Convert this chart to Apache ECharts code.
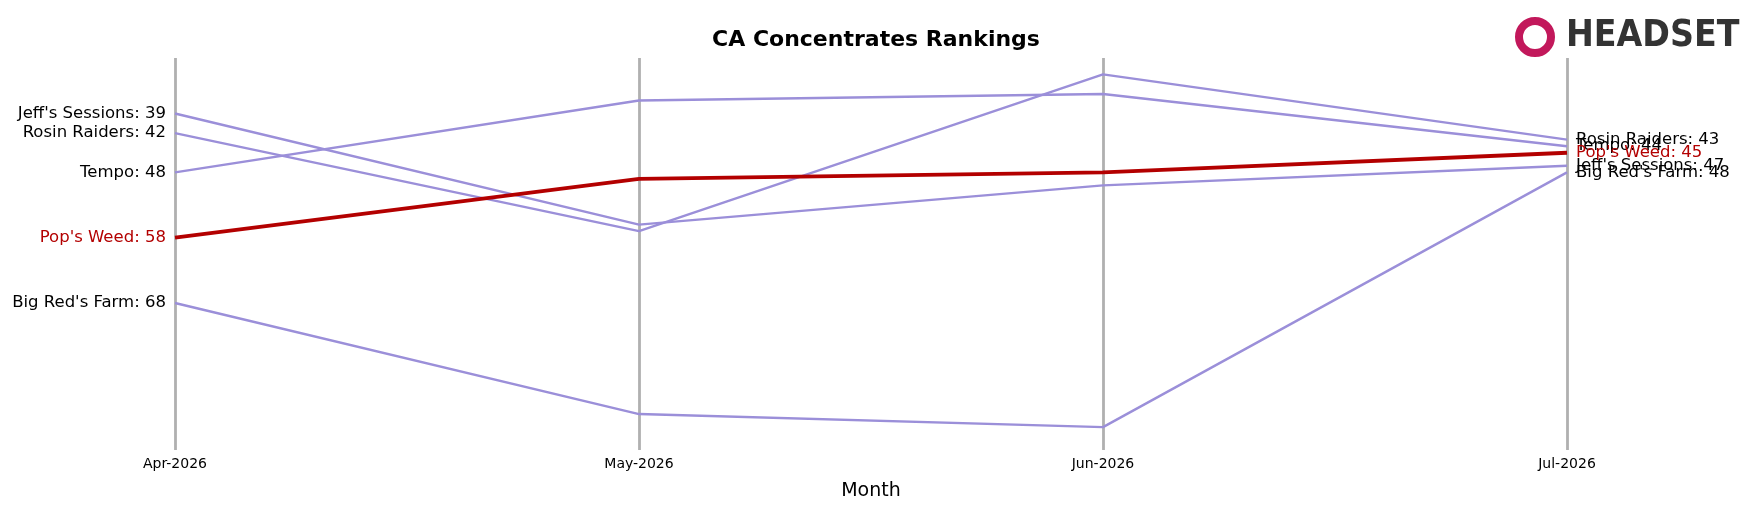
<!DOCTYPE html>
<html><head><meta charset="utf-8">
<script src="https://cdn.jsdelivr.net/npm/echarts@6/dist/echarts.min.js"></script>
<style>html,body{margin:0;padding:0;background:#fff}</style>
</head><body><div id="c" style="width:1749px;height:506px"></div>
<script>
const months = ["Apr-2026","May-2026","Jun-2026","Jul-2026"];
const brands = ["Jeff's Sessions","Rosin Raiders","Tempo","Pop's Weed","Big Red's Farm"];
const jeffs = [39,56,50,47];
const rosin = [42,57,33,43];
const tempo = [48,37,36,44];
const pops = [58,49,48,45];
const bigred = [68,85,87,48];
const values = [jeffs,rosin,tempo,pops,bigred];
const highlight = "Pop's Weed";
const chart = echarts.init(document.getElementById('c'));
const series = brands.map((b,i)=>{
  const hl = b===highlight;
  const col = hl ? '#b30000' : '#9b8fd9';
  const n = values[i].length;
  return {
    type:'line', name:b, symbol:'circle', symbolSize:0.1, showSymbol:true, z: hl?5:2,
    itemStyle:{color:col},
    lineStyle:{color:col,width:hl?3.8:2.4},
    data: values[i].map((v,j)=>({value:v,
      label:{show:j===0||j===n-1, position:j===0?'left':'right', distance:9,
        color: hl?'#b30000':'#000', fontSize:16.5, fontFamily:'DejaVu Sans',
        formatter: b+': '+v}}))
  };
});
chart.setOption({
  animation:false,
  title:{text:'CA Concentrates Rankings',left:871,textAlign:'center',top:24,
    textStyle:{fontSize:22,fontWeight:'bold',color:'#000',fontFamily:'DejaVu Sans'}},
  graphic:[{type:'text',left:1566,top:18,style:{text:'HEADSET',fontSize:37,fontWeight:'bold',fill:'#333',fontFamily:'DejaVu Sans Condensed'}},
    {type:'circle',shape:{cx:1535,cy:37,r:16},style:{fill:'none',stroke:'#c2185b',lineWidth:8}}],
  grid:{left:175,right:182,top:58,bottom:54},
  xAxis:{type:'category',data:months,boundaryGap:false,
    name:'Month',nameLocation:'middle',nameGap:32,
    nameTextStyle:{fontSize:19,color:'#000',fontFamily:'DejaVu Sans'},
    axisLine:{show:false},axisTick:{show:false},
    axisLabel:{fontSize:14,color:'#000',fontFamily:'DejaVu Sans',margin:7},
    splitLine:{show:true,lineStyle:{color:'#b0b0b0',width:2.8}}},
  yAxis:{type:'value',inverse:true,min:30.5,max:90.5,show:false},
  series
});
</script></body></html>
